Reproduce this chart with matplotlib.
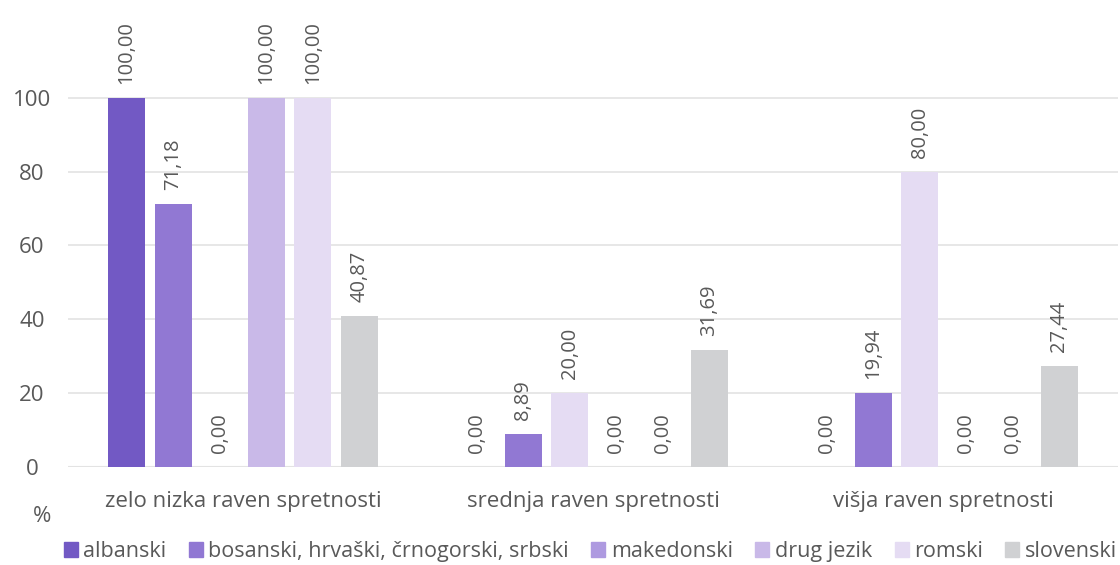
import numpy as np
import matplotlib as mpl
mpl.use('Agg')
import matplotlib.pyplot as plt

categories = ['zelo nizka raven spretnosti', 'srednja raven spretnosti', 'višja raven spretnosti']
series = ['albanski', 'bosanski, hrvaški, črnogorski, srbski', 'makedonski',
          'drug jezik', 'romski', 'slovenski']
albanski = [100.00, 0.00, 0.00]
bosanski = [71.18, 8.89, 19.94]
makedonski = [0.00, 20.00, 80.00]
drug_jezik = [100.00, 0.00, 0.00]
romski = [100.00, 0.00, 0.00]
slovenski = [40.87, 31.69, 27.44]
values = [albanski, bosanski, makedonski, drug_jezik, romski, slovenski]

colors = ['#7259C4', '#9178D3', '#AE9AE0', '#C9B9E8', '#E5DCF3', '#D0D1D3']
# the source chart paints makedonski bars in groups 2 and 3 with the pale tone
bar_colors = [[c] * 3 for c in colors]
bar_colors[2] = [colors[2], colors[4], colors[4]]

txt = '#595959'
plt.rcParams['font.family'] = ['Open Sans', 'DejaVu Sans']

fig = plt.figure(figsize=(11.2, 5.65), dpi=100)
ax = fig.add_axes([0.0607, 0.1735, 0.9375, 0.8265])

x = np.arange(len(categories))
pitch = 0.133
width = 0.106
for i, (name, vals) in enumerate(zip(series, values)):
    pos = x + (i - 2.5) * pitch
    ax.bar(pos, vals, width, color=bar_colors[i], label=name, zorder=3)
    for p, v in zip(pos, vals):
        ax.annotate(f'{v:.2f}'.replace('.', ','), (p, v), xytext=(0, 10),
                    textcoords='offset points', rotation=90, ha='center',
                    va='bottom', fontsize=14.5, color=txt, annotation_clip=False)

ax.set_xlim(-0.5, 2.5)
ax.set_ylim(0, 126.5)
ax.set_yticks([0, 20, 40, 60, 80, 100])
ax.set_xticks(x)
ax.set_xticklabels(categories)
ax.tick_params(axis='both', length=0, labelsize=16, colors=txt)
ax.tick_params(axis='x', pad=17)
ax.tick_params(axis='y', pad=26)
for lbl in ax.get_yticklabels():
    lbl.set_horizontalalignment('center')
ax.yaxis.grid(True, color='#E3E3E3', linewidth=1.2, zorder=0)
for s in ax.spines.values():
    s.set_visible(False)
ax.axhline(0, color='#E3E3E3', linewidth=1.5, zorder=2)

fig.text(0.0375, 0.086, '%', fontsize=16, color=txt, ha='center', va='center')

handles = [plt.Rectangle((0, 0), 1, 1, color=c) for c in colors]
fig.legend(handles, series, loc='center', bbox_to_anchor=(0.527, 0.024), ncol=6,
           frameon=False, fontsize=15.5, labelcolor=txt, handlelength=0.65,
           handleheight=0.65, handletextpad=0.25, columnspacing=1.05,
           borderaxespad=0)

fig.savefig('out.png', dpi=100)
